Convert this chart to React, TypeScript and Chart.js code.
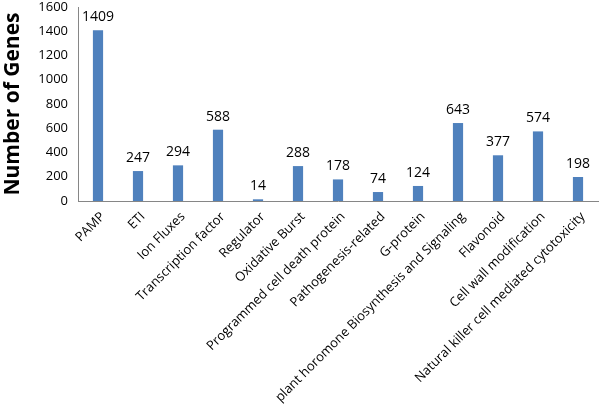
import React, { useEffect, useRef } from "react";
import { Chart, registerables } from "chart.js";

Chart.register(...registerables);

const categories = [
  "PAMP",
  "ETI",
  "Ion Fluxes",
  "Transcription factor",
  "Regulator",
  "Oxidative Burst",
  "Programmed cell death protein",
  "Pathogenesis-related",
  "G-protein",
  "plant horomone Biosynthesis and Signaling",
  "Flavonoid",
  "Cell wall modification",
  "Natural killer cell mediated cytotoxicity",
];
const geneCounts = [1409, 247, 294, 588, 14, 288, 178, 74, 124, 643, 377, 574, 198];
const yTicks = [0, 200, 400, 600, 800, 1000, 1200, 1400, 1600];

const FONT = "'Open Sans', 'Liberation Sans', sans-serif";

const valueLabels = {
  id: "valueLabels",
  afterDatasetsDraw(chart: any) {
    const { ctx } = chart;
    const meta = chart.getDatasetMeta(0);
    ctx.save();
    ctx.font = `14px ${FONT}`;
    ctx.fillStyle = "#000";
    ctx.textAlign = "center";
    ctx.textBaseline = "alphabetic";
    meta.data.forEach((bar: any, i: number) => {
      ctx.fillText(String(geneCounts[i]), bar.x, bar.y - 9);
    });
    ctx.restore();
  },
};

export default function App() {
  const ref = useRef<HTMLCanvasElement>(null);
  useEffect(() => {
    if (!ref.current) return;
    const chart = new Chart(ref.current, {
      type: "bar",
      data: {
        labels: categories,
        datasets: [
          {
            data: geneCounts,
            backgroundColor: "#4F81BD",
            barPercentage: 0.3,
            categoryPercentage: 0.85,
          },
        ],
      },
      options: {
        responsive: false,
        animation: false,
        layout: { padding: { top: 7, right: 2, left: 0, bottom: 0 } },
        plugins: { legend: { display: false }, tooltip: { enabled: false } },
        scales: {
          x: {
            grid: { display: false, drawTicks: false },
            border: { color: "#868686" },
            ticks: {
              autoSkip: false,
              minRotation: 45,
              maxRotation: 45,
              color: "#000",
              font: { family: FONT, size: 13 },
              padding: 8,
              labelOffset: 5,
            },
            afterFit: (s: any) => {
              s.height = 209;
              s.paddingLeft = 0;
              s.paddingRight = 0;
            },
          },
          y: {
            min: 0,
            max: 1600,
            afterBuildTicks: (s: any) => {
              s.ticks = yTicks.map((v) => ({ value: v }));
            },
            grid: { display: false, drawTicks: true, tickLength: 4, tickColor: "#868686" },
            border: { color: "#868686" },
            ticks: {
              color: "#000",
              font: { family: FONT, size: 13 },
              padding: 6,
              callback: (v: any) => String(v),
            },
            title: {
              display: true,
              text: "Number of Genes",
              color: "#000",
              font: { family: FONT, size: 21, weight: "bold" },
              padding: { top: 0, bottom: 2 },
            },
            afterFit: (s: any) => {
              s.width = 78;
              s.paddingTop = 0;
              s.paddingBottom = 0;
            },
          },
        },
      },
      plugins: [valueLabels],
    });
    return () => chart.destroy();
  }, []);
  return (
    <div style={{ position: "fixed", left: 0, top: 0, width: 600, height: 410, background: "#fff" }}>
      <canvas ref={ref} width={600} height={410} />
    </div>
  );
}
